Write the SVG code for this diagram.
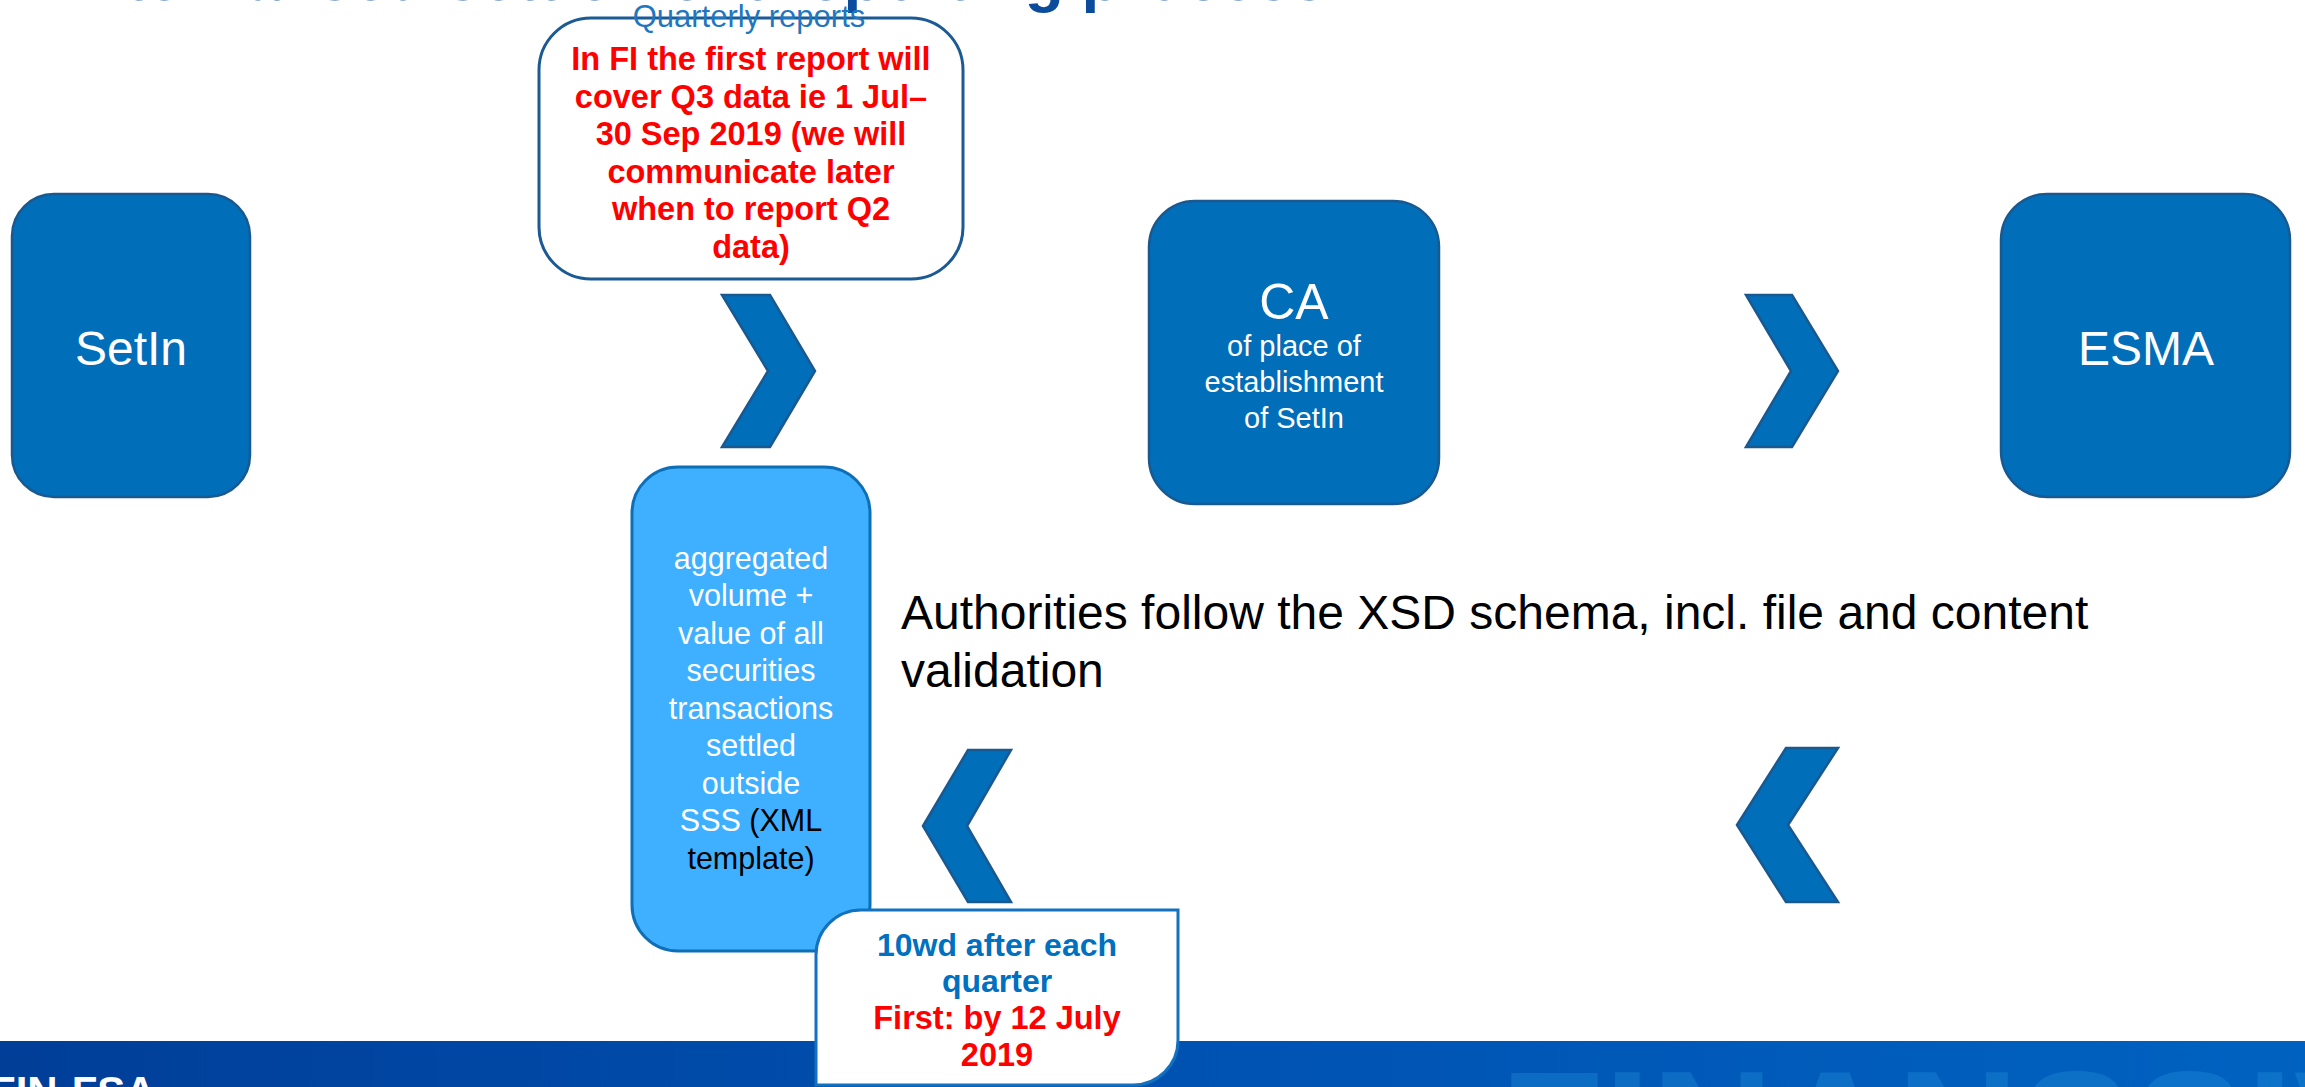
<svg xmlns="http://www.w3.org/2000/svg" width="2305" height="1087" viewBox="0 0 2305 1087">
<defs>
<linearGradient id="foot" x1="0" y1="0" x2="1" y2="0">
<stop offset="0" stop-color="#003e98"/>
<stop offset="0.45" stop-color="#0050b0"/>
<stop offset="1" stop-color="#0062c0"/>
</linearGradient>
<style>
.node{fill:#006eb9;stroke:#1a5890;stroke-width:2.5}
.chev{fill:#006eb9;stroke:#1a5890;stroke-width:2.5;stroke-linejoin:miter}
.wt{fill:#ffffff;font-family:"Liberation Sans",Arial,sans-serif;text-anchor:middle}
.red{fill:#ff0000;font-family:"Liberation Sans",Arial,sans-serif;font-weight:bold;font-size:32.5px;text-anchor:middle}
.blu{fill:#0070c0;font-family:"Liberation Sans",Arial,sans-serif;font-weight:bold;font-size:32px;text-anchor:middle}
</style>
</defs>
<rect x="0" y="0" width="2305" height="1087" fill="#ffffff"/>
<text x="68" y="0" font-family="Liberation Sans,Arial,sans-serif" font-weight="bold" font-size="64" fill="#0b4d9c">Internalised settlement reporting process</text>
<g id="footer">
<rect x="0" y="1041" width="2305" height="46" fill="url(#foot)"/>
<text x="1500" y="1190" font-family="Liberation Sans,Arial,sans-serif" font-weight="bold" font-size="170" fill="#2a9ae0" opacity="0.3">FINANSSIVALVONTA</text>
<text x="-10" y="1106" font-family="Liberation Sans,Arial,sans-serif" font-weight="bold" font-size="42" fill="#ffffff">FIN-FSA</text>
</g>
<g id="connectors">
<polygon class="chev" points="722,295 770,295 815,371 770,447 722,447 768,371"/>
<polygon class="chev" points="1746,295 1792,295 1838,371 1792,447 1746,447 1791,371"/>
<polygon class="chev" points="923,826 968,750 1011,750 967,826 1011,902 968,902"/>
<polygon class="chev" points="1737,825 1786,748 1838,748 1788,825 1838,902 1786,902"/>
</g>
<g id="setin">
<rect class="node" x="12" y="194" width="238" height="303" rx="42"/>
<text class="wt" x="131" y="365" font-size="48">SetIn</text>
</g>
<g id="ca">
<rect class="node" x="1149" y="201" width="290" height="303" rx="46"/>
<text class="wt" x="1294" y="319" font-size="50">CA</text>
<text class="wt" x="1294" y="356" font-size="29">of place of</text>
<text class="wt" x="1294" y="392" font-size="29">establishment</text>
<text class="wt" x="1294" y="428" font-size="29">of SetIn</text>
</g>
<g id="esma">
<rect class="node" x="2001" y="194" width="289" height="303" rx="46"/>
<text class="wt" x="2146" y="365" font-size="48">ESMA</text>
</g>
<g id="quarterly">
<rect x="539" y="18" width="424" height="261" rx="52" fill="#ffffff" stroke="#1b5a93" stroke-width="3"/>
<text x="749" y="27" font-family="Liberation Sans,Arial,sans-serif" font-size="31" fill="#1f77c0" text-anchor="middle">Quarterly reports</text>
<text class="red" x="751" y="70">In FI the first report will</text>
<text class="red" x="751" y="108">cover Q3 data ie 1 Jul–</text>
<text class="red" x="751" y="145">30 Sep 2019 (we will</text>
<text class="red" x="751" y="183">communicate later</text>
<text class="red" x="751" y="220">when to report Q2</text>
<text class="red" x="751" y="258">data)</text>
</g>
<g id="aggregated">
<rect x="632" y="467" width="238" height="484" rx="46" fill="#3fb0ff" stroke="#0e6fb6" stroke-width="3"/>
<text class="wt" x="751" y="569" font-size="30.5">aggregated</text>
<text class="wt" x="751" y="606" font-size="30.5">volume +</text>
<text class="wt" x="751" y="644" font-size="30.5">value of all</text>
<text class="wt" x="751" y="681" font-size="30.5">securities</text>
<text class="wt" x="751" y="719" font-size="30.5">transactions</text>
<text class="wt" x="751" y="756" font-size="30.5">settled</text>
<text class="wt" x="751" y="794" font-size="30.5">outside</text>
<text class="wt" x="751" y="831" font-size="30.5">SSS <tspan fill="#000000">(XML</tspan></text>
<text x="751" y="869" font-size="30.5" font-family="Liberation Sans,Arial,sans-serif" text-anchor="middle" fill="#000000">template)</text>
</g>
<g id="deadline">
<path d="M861,910 H1178 V1040 A45,45 0 0 1 1133,1085 H816 V955 A45,45 0 0 1 861,910 Z" fill="#ffffff" stroke="#1272bf" stroke-width="3"/>
<text class="blu" x="997" y="956">10wd after each</text>
<text class="blu" x="997" y="992">quarter</text>
<text class="red" x="997" y="1029">First: by 12 July</text>
<text class="red" x="997" y="1066">2019</text>
</g>
<g id="authorities">
<text x="901" y="629" font-family="Liberation Sans,Arial,sans-serif" font-size="48" fill="#000000">Authorities follow the XSD schema, incl. file and content</text>
<text x="901" y="687" font-family="Liberation Sans,Arial,sans-serif" font-size="48" fill="#000000">validation</text>
</g>
</svg>
